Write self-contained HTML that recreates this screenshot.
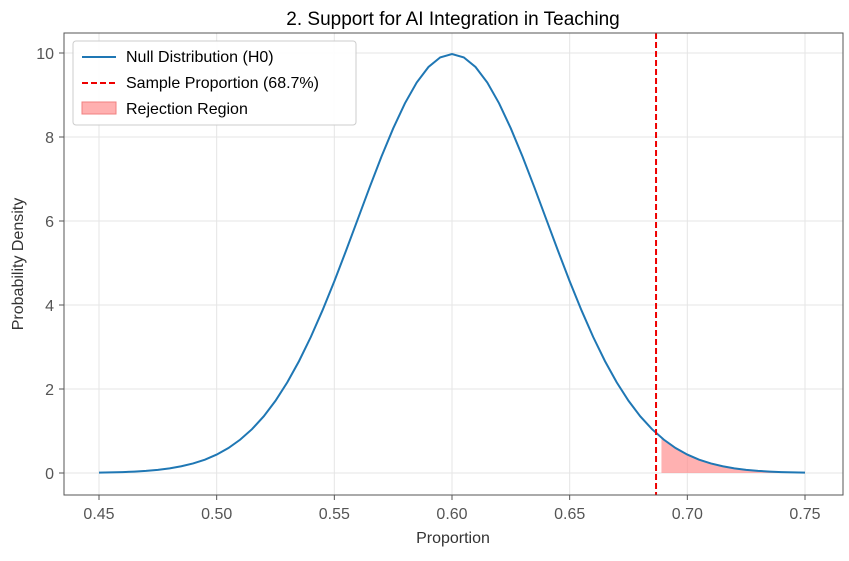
<!DOCTYPE html>
<html><head><meta charset="utf-8"><style>
body{margin:0;background:#fff;}
svg text{font-family:"Liberation Sans","DejaVu Sans",sans-serif;}
</style></head><body>
<svg id="chart" width="849" height="556" xmlns="http://www.w3.org/2000/svg">
<rect width="849" height="556" fill="#fff"/>
<text x="453" y="25" font-size="19" text-anchor="middle" fill="#000">2. Support for AI Integration in Teaching</text>
<g id="grid"></g>
<g id="marks"></g>
<rect x="64" y="33" width="779" height="462" fill="none" stroke="#555" stroke-width="1"/>
<g id="axes"></g>
<text x="453" y="543" font-size="16" text-anchor="middle" fill="#333">Proportion</text>
<text transform="translate(23,264) rotate(-90)" font-size="16" text-anchor="middle" fill="#333">Probability Density</text>
<g>
<rect x="73" y="41" width="283" height="84" rx="3" fill="#fff" fill-opacity="0.9" stroke="#ccc"/>
<line x1="82" y1="57" x2="116" y2="57" stroke="#1f77b4" stroke-width="2"/>
<text x="126" y="62" font-size="16" fill="#000">Null Distribution (H0)</text>
<line x1="82" y1="83" x2="116" y2="83" stroke="#e00" stroke-width="2" stroke-dasharray="6,3"/>
<text x="126" y="88" font-size="16" fill="#000">Sample Proportion (68.7%)</text>
<rect x="82" y="102" width="34" height="12" fill="#ffb0b0" stroke="#f08080"/>
<text x="126" y="114" font-size="16" fill="#000">Rejection Region</text>
</g>
</svg>
<script>
const xValues = [];
const densityHalf = [9.974,9.896,9.667,9.297,8.802,8.204,7.529,6.802,6.049,5.297,4.566,3.876,3.238,2.664,2.157,1.720,1.350,1.043,0.794,0.594,0.438,0.318,0.227,0.160,0.111,0.0755,0.0507,0.0335,0.0218,0.0140,0.0088];
const densityValues = densityHalf.slice(1).reverse().concat(densityHalf);
for (let i = 0; i < densityValues.length; i++) xValues.push(0.45 + i * 0.005);
const sampleProportion = [0.687];
const rejectionStart = [0.689];
const xTicks = [0.45,0.50,0.55,0.60,0.65,0.70,0.75];
const xTickLabels = ["0.45","0.50","0.55","0.60","0.65","0.70","0.75"];
const yTicks = [0,2,4,6,8,10];
const yTickLabels = ["0","2","4","6","8","10"];

const NS = "http://www.w3.org/2000/svg";
const X = v => 99 + (v - 0.45) / 0.30 * 706;
const Y = v => 473 - v * 42;
function mk(tag, attrs, parent) {
  const e = document.createElementNS(NS, tag);
  for (const k in attrs) e.setAttribute(k, attrs[k]);
  document.getElementById(parent).appendChild(e);
  return e;
}
xTicks.forEach((t, i) => {
  const g = mk("line", {x1: X(t), x2: X(t), y1: 33, y2: 495, stroke: "#e5e5e5"}, "grid");
  
  
  mk("line", {x1: X(t), x2: X(t), y1: 495, y2: 500, stroke: "#555"}, "axes");
  const tx = mk("text", {x: X(t), y: 519, "font-size": 16, "text-anchor": "middle", fill: "#555"}, "axes");
  tx.textContent = xTickLabels[i];
  
  
});
yTicks.forEach((t, i) => {
  const g = mk("line", {x1: 64, x2: 843, y1: Y(t), y2: Y(t), stroke: "#e5e5e5"}, "grid");
  
  
  mk("line", {x1: 59, x2: 64, y1: Y(t), y2: Y(t), stroke: "#555"}, "axes");
  const tx = mk("text", {x: 54, y: Y(t) + 6, "font-size": 16, "text-anchor": "end", fill: "#555"}, "axes");
  tx.textContent = yTickLabels[i];
  
  
});
const rs = rejectionStart[0];
let k = xValues.findIndex(v => v > rs);
const f = (rs - xValues[k-1]) / (xValues[k] - xValues[k-1]);
const y0 = densityValues[k-1] + f * (densityValues[k] - densityValues[k-1]);
let pts = [[X(rs), Y(0)], [X(rs), Y(y0)]];
for (let i = k; i < xValues.length; i++) pts.push([X(xValues[i]), Y(densityValues[i])]);
pts.push([X(xValues[xValues.length-1]), Y(0)]);
const area = mk("polygon", {points: pts.map(p => p.join(",")).join(" "), fill: "#ff9090", "fill-opacity": 0.7}, "marks");


const curve = mk("polyline", {points: xValues.map((v, i) => X(v) + "," + Y(densityValues[i])).join(" "), fill: "none", stroke: "#1f77b4", "stroke-width": 2}, "marks");


const sx = X(sampleProportion[0]) - 0.7;
const vl = mk("line", {x1: sx, x2: sx, y1: 33, y2: 495, stroke: "#e00", "stroke-width": 2, "stroke-dasharray": "6,3"}, "marks");


</script>
</body></html>
